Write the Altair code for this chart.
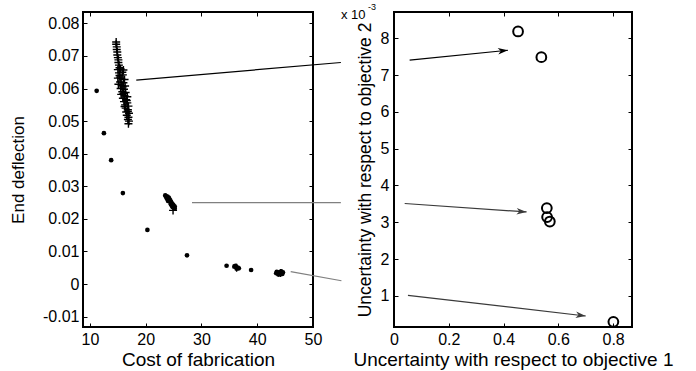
import altair as alt
import pandas as pd

FONT = "Liberation Sans"
INK = "#000000"

# ---------------- left panel: cost of fabrication vs end deflection ----------------
# isolated Pareto solutions (dot markers)
dot_cost = [11.2, 12.5, 13.8, 15.9, 20.3, 27.4, 34.5, 38.9]
dot_defl = [0.0593, 0.0463, 0.0380, 0.0279, 0.0166, 0.0088, 0.0056, 0.0043]

# dense cluster around cost 24-25 (dot markers)
mid_cost = [23.5, 23.6, 23.9, 24.1, 23.7, 23.8, 24.2, 24.0, 24.4, 24.2, 24.0, 24.5,
            24.3, 24.6, 24.7, 24.5, 24.9, 24.6, 24.7, 25.0, 24.9, 24.8, 25.2, 25.1,
            25.2]
mid_defl = [0.0272, 0.0270, 0.0268, 0.0265, 0.0266, 0.0262, 0.0263, 0.0261, 0.0257,
            0.0260, 0.0255, 0.0252, 0.0253, 0.0250, 0.0247, 0.0245, 0.0244, 0.0243,
            0.0240, 0.0241, 0.0238, 0.0236, 0.0238, 0.0233, 0.0231]

# small clusters around cost 36 and 44 (dot markers)
low_cost = [35.9, 36.2, 36.5, 36.3, 36.7, 36.1,
            43.5, 43.9, 44.3, 43.7, 44.1, 44.5, 44.0, 44.6, 43.4, 44.3, 43.8]
low_defl = [0.0054, 0.0052, 0.0050, 0.0047, 0.0048, 0.0056,
            0.0037, 0.0036, 0.0034, 0.0032, 0.0030, 0.0031, 0.0035, 0.0036, 0.0033,
            0.0039, 0.0029]

# plus-marker solutions
plus_cost = [14.7, 14.7, 14.8, 14.8, 14.9, 14.9, 15.0, 15.1, 15.1, 15.2, 15.3,
             15.0, 15.5, 16.0, 15.2, 15.8, 15.3, 15.9, 15.0, 15.6, 16.2, 15.4, 16.0,
             15.1, 15.7, 16.3, 15.5, 16.1, 15.8, 16.4, 15.6, 16.2, 16.7, 15.9, 16.5,
             16.1, 16.7, 16.3, 16.9, 16.4, 16.8, 16.5, 17.0, 16.6, 16.9, 16.8, 17.0,
             16.9, 15.4, 15.9, 16.0, 16.6, 16.2, 16.8,
             24.9, 36.3, 44.2]
plus_defl = [0.0743, 0.0736, 0.0728, 0.0720, 0.0712, 0.0703, 0.0695, 0.0688, 0.0680,
             0.0672, 0.0664, 0.0658, 0.0660, 0.0657, 0.0648, 0.0650, 0.0640, 0.0642,
             0.0632, 0.0630, 0.0628, 0.0620, 0.0618, 0.0613, 0.0610, 0.0608, 0.0600,
             0.0598, 0.0590, 0.0588, 0.0582, 0.0578, 0.0575, 0.0570, 0.0566, 0.0560,
             0.0556, 0.0550, 0.0546, 0.0540, 0.0535, 0.0528, 0.0524, 0.0518, 0.0512,
             0.0505, 0.0500, 0.0492, 0.0635, 0.0605, 0.0585, 0.0563, 0.0545, 0.0530,
             0.0226, 0.0050, 0.0034]

# connector segments leaving the left panel (left-panel data coordinates)
link_x1 = [18.3, 28.3, 46.0]
link_y1 = [0.0626, 0.0250, 0.0038]
link_x2 = [55.0, 55.0, 55.1]
link_y2 = [0.0680, 0.0250, 0.0010]
link_col = ["#000000", "#808080", "#808080"]

# ---------------- right panel: uncertainty of the two objectives ----------------
unc1 = [0.453, 0.538, 0.558, 0.559, 0.569, 0.801]
unc2_e3 = [8.19, 7.49, 3.385, 3.14, 3.02, 0.29]

# arrows entering the right panel (right-panel data coordinates)
arr_x1 = [0.057, 0.039, 0.051]
arr_y1 = [7.41, 3.51, 1.01]
arr_x2 = [0.416, 0.484, 0.700]
arr_y2 = [7.68, 3.28, 0.45]
arr_angle = [354, 4, 7]
arr_col = ["#000000", "#3a3a3a", "#3a3a3a"]

left_xticks = [10, 20, 30, 40, 50]
left_yticks = [-0.01, 0, 0.01, 0.02, 0.03, 0.04, 0.05, 0.06, 0.07, 0.08]
right_xticks = [0, 0.2, 0.4, 0.6, 0.8]
right_yticks = [1, 2, 3, 4, 5, 6, 7, 8]

PLUS = "M-1,0L1,0M0,-1L0,1"
HEAD = "M0,0L-1,-0.32L-0.72,0L-1,0.32Z"

LABEL_SIZE = 16

tick_style = dict(domain=False, ticks=True, tickSize=4, tickColor=INK, tickWidth=1,
                  offset=-4, grid=False)


def label_axis(orient, values, expr, title, title_size, lab_pad, title_pad):
    return alt.Axis(orient=orient, values=values, labelExpr=expr, title=title,
                    labelFontSize=LABEL_SIZE, titleFontSize=title_size,
                    labelPadding=lab_pad, titlePadding=title_pad,
                    titleFontWeight="normal", labelFlush=False, labelOverlap=False,
                    **tick_style)


def tick_axis(orient, values):
    return alt.Axis(orient=orient, values=values, labels=False, title=None, **tick_style)


minus_fix = "replace(format(datum.value, '.2~f'), '\u2212', '-')"

# ----- left panel -----
lx = alt.Scale(domain=[8.75, 50], nice=False, zero=False)
ly = alt.Scale(domain=[-0.0132, 0.0835], nice=False, zero=False)

dots = pd.DataFrame({"cost": dot_cost + mid_cost + low_cost,
                     "defl": dot_defl + mid_defl + low_defl})
plus = pd.DataFrame({"cost": plus_cost, "defl": plus_defl})
links = pd.DataFrame({"x1": link_x1, "y1": link_y1, "x2": link_x2, "y2": link_y2,
                      "col": link_col})

left_dots = alt.Chart(dots).mark_circle(size=22, color=INK, opacity=1).encode(
    x=alt.X("cost:Q", scale=lx,
            axis=label_axis("bottom", left_xticks, "format(datum.value, 'd')",
                            "Cost of fabrication", 19, 4, 3)),
    y=alt.Y("defl:Q", scale=ly,
            axis=label_axis("left", left_yticks, minus_fix,
                            "End deflection", 17, 4, 15)),
)
left_frame = alt.Chart(dots).mark_circle(opacity=0).encode(
    x=alt.X("cost:Q", scale=lx, axis=tick_axis("top", left_xticks)),
    y=alt.Y("defl:Q", scale=ly, axis=tick_axis("right", left_yticks)),
)
left_plus = alt.Chart(plus).mark_point(shape=PLUS, size=64, filled=False, color=INK,
                                       strokeWidth=1.4, opacity=1).encode(
    x=alt.X("cost:Q", scale=lx, axis=None),
    y=alt.Y("defl:Q", scale=ly, axis=None),
)
left_links = alt.Chart(links).mark_rule(clip=False, strokeWidth=1.2).encode(
    x=alt.X("x1:Q", scale=lx, axis=None),
    y=alt.Y("y1:Q", scale=ly, axis=None),
    x2="x2:Q",
    y2="y2:Q",
    color=alt.Color("col:N", scale=None),
)

left = alt.layer(left_links, left_dots, left_plus, left_frame).resolve_axis(
    x="independent", y="independent").properties(width=230, height=315)

# ----- right panel -----
rx = alt.Scale(domain=[0, 0.869], nice=False, zero=False)
ry = alt.Scale(domain=[0.15, 8.72], nice=False, zero=False)

circles = pd.DataFrame({"u1": unc1, "u2": unc2_e3})
arrows = pd.DataFrame({"x1": arr_x1, "y1": arr_y1, "x2": arr_x2, "y2": arr_y2,
                       "ang": arr_angle, "col": arr_col})

right_pts = alt.Chart(circles).mark_point(shape="circle", size=95, filled=False,
                                          color=INK, strokeWidth=2, opacity=1).encode(
    x=alt.X("u1:Q", scale=rx,
            axis=label_axis("bottom", right_xticks, "format(datum.value, '.1~f')",
                            "Uncertainty with respect to objective 1", 19, 4, 3)),
    y=alt.Y("u2:Q", scale=ry,
            axis=label_axis("left", right_yticks, "format(datum.value, 'd')",
                            "Uncertainty with respect to objective 2", 17.5, 5, 6)),
)
right_frame = alt.Chart(circles).mark_point(opacity=0).encode(
    x=alt.X("u1:Q", scale=rx, axis=tick_axis("top", right_xticks)),
    y=alt.Y("u2:Q", scale=ry, axis=tick_axis("right", right_yticks)),
)
right_lines = alt.Chart(arrows).mark_rule(clip=False, strokeWidth=1.2).encode(
    x=alt.X("x1:Q", scale=rx, axis=None),
    y=alt.Y("y1:Q", scale=ry, axis=None),
    x2="x2:Q",
    y2="y2:Q",
    color=alt.Color("col:N", scale=None),
)
right_heads = alt.Chart(arrows).mark_point(shape=HEAD, size=400, filled=True,
                                           strokeWidth=0, opacity=1, clip=False).encode(
    x=alt.X("x2:Q", scale=rx, axis=None),
    y=alt.Y("y2:Q", scale=ry, axis=None),
    angle=alt.Angle("ang:Q", scale=None),
    color=alt.Color("col:N", scale=None),
)
multiplier = alt.Chart(alt.Data(values=[{"t": "x 10"}])).mark_text(
    align="left", baseline="alphabetic", fontSize=13, font=FONT, color=INK
).encode(x=alt.value(-53), y=alt.value(7), text="t:N")
exponent = alt.Chart(alt.Data(values=[{"t": "-3"}])).mark_text(
    align="left", baseline="alphabetic", fontSize=9, font=FONT, color=INK
).encode(x=alt.value(-26), y=alt.value(-2), text="t:N")

right = alt.layer(right_lines, right_heads, right_pts, right_frame, multiplier,
                  exponent).resolve_axis(x="independent", y="independent").properties(
    width=238, height=315)

chart = alt.hconcat(left, right, spacing=81, bounds="flush").properties(
    autosize=alt.AutoSizeParams(type="none"),
    padding={"left": 83, "top": 12, "right": 613, "bottom": 359},
    background="white",
).configure_view(stroke=INK, strokeWidth=2).configure_axis(
    labelFont=FONT, titleFont=FONT, labelColor=INK, titleColor=INK
)

chart.save("out.html", embed_options={"renderer": "svg", "actions": False})
